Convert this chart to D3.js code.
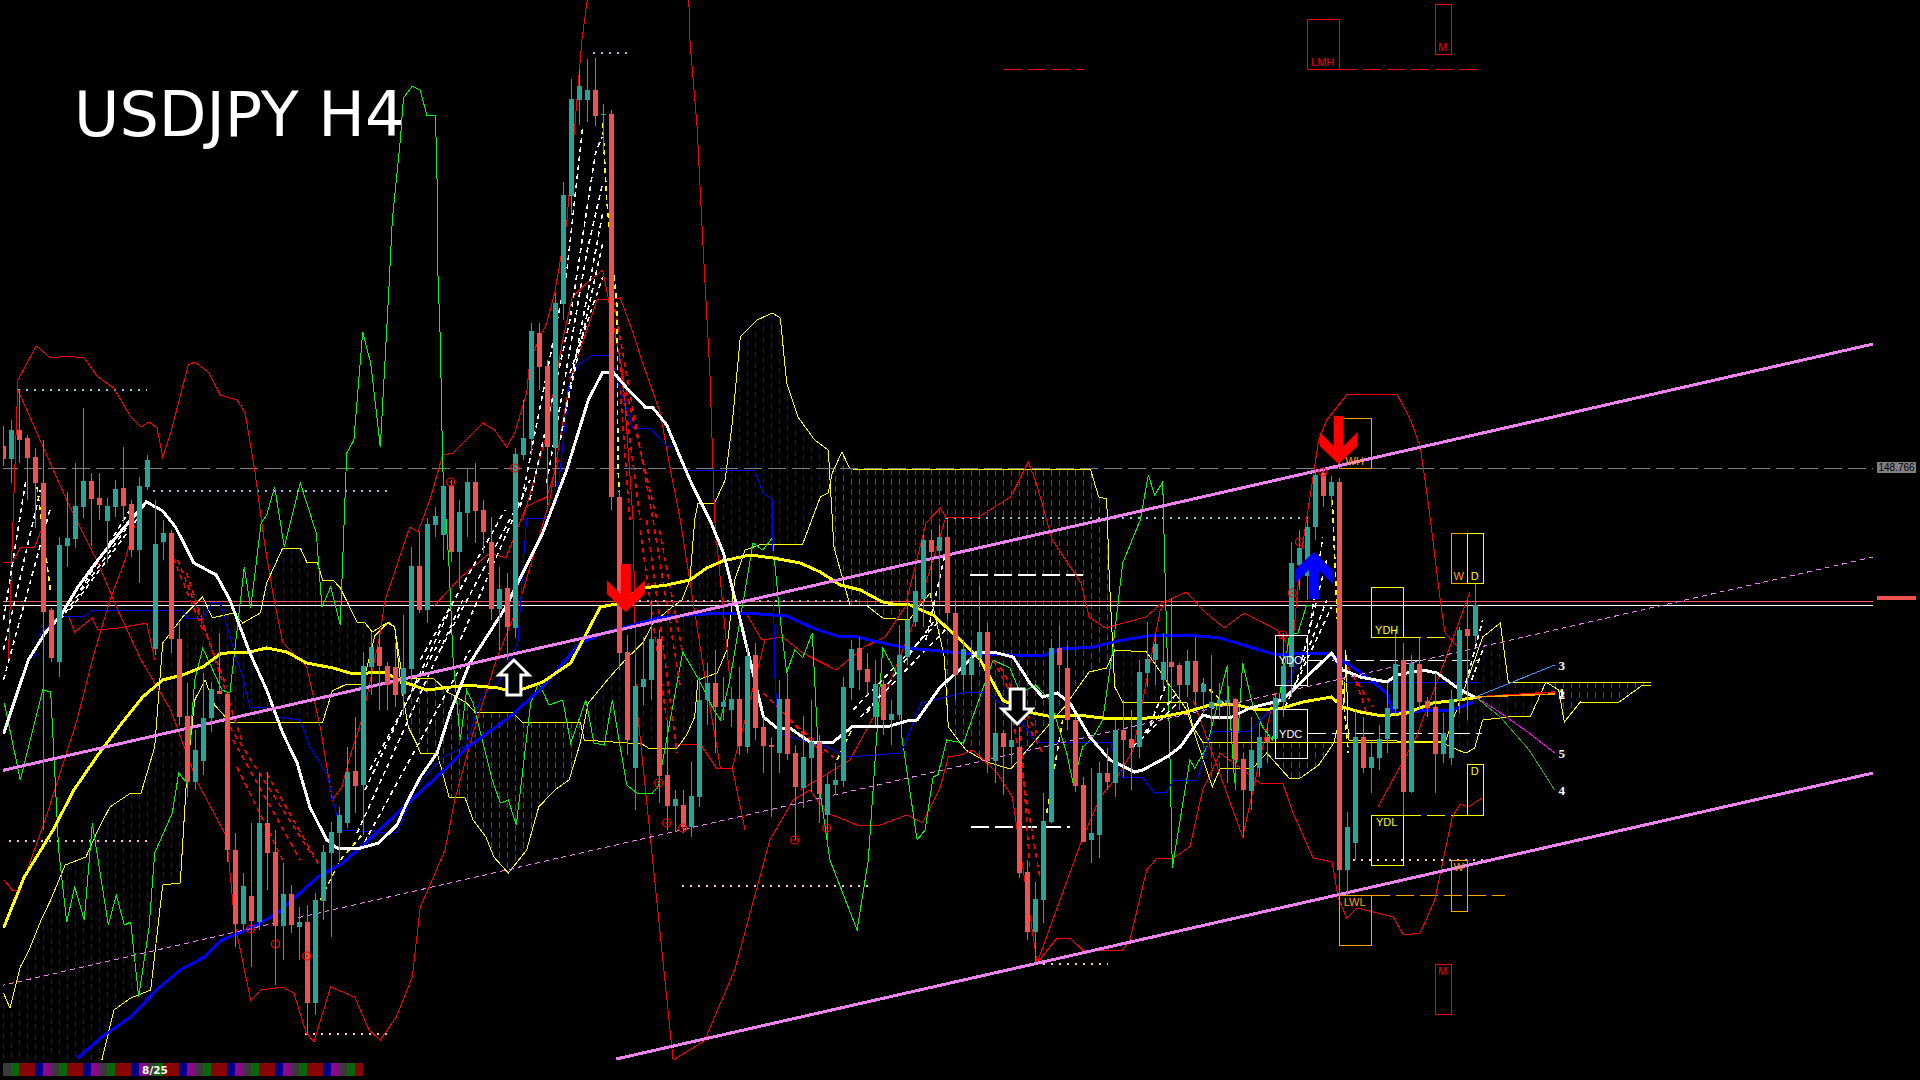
<!DOCTYPE html>
<html><head><meta charset="utf-8"><title>USDJPY H4</title>
<script src="https://cdnjs.cloudflare.com/ajax/libs/d3/7.8.5/d3.min.js"></script>
<style>html,body{margin:0;padding:0;background:#000;overflow:hidden}svg{display:block}</style>
</head><body><div id="chart"></div>
<script>
const symbolTitle = "USDJPY H4";
const tfCounter = "8/25";
const lastPriceLabel = "148.766";
const opens = [148.87,148.805,148.95,148.91,148.815,148.685,148.05,147.79,148.37,148.405,
148.565,148.695,148.61,148.495,148.565,148.66,148.58,148.35,148.665,147.855,
148.39,148.435,147.905,147.52,147.19,147.295,147.51,147.645,147.63,146.85,
146.48,146.62,146.49,146.985,146.84,146.47,146.63,146.465,146.49,146.085,
146.595,146.835,146.935,146.985,147.245,147.175,147.765,147.865,147.77,147.765,
147.63,147.755,148.27,148.05,148.475,148.425,148.67,148.34,148.535,148.69,
148.55,148.39,148.055,148.16,147.96,148.825,148.905,149.435,149.27,148.86,
149.58,150.12,150.6,150.6,150.65,150.525,150.53,148.615,147.84,147.26,
147.665,147.7,147.905,147.225,147.07,147.075,146.965,147.115,147.6,147.685,
147.565,147.55,147.605,147.365,147.825,147.465,147.375,147.335,147.605,147.335,
147.16,147.31,147.39,147.025,147.175,147.195,147.66,147.86,147.755,147.515,
147.68,147.5,147.525,147.815,147.99,148.105,148.4,148.345,148.415,148.035,
147.725,147.725,147.81,147.94,147.295,147.435,147.365,147.365,146.74,146.44,
146.6,146.99,147.86,147.76,147.5,147.175,146.9,146.925,147.235,147.185,
147.45,147.405,147.365,147.735,147.8,147.7,147.79,147.775,147.675,147.795,
147.64,147.56,147.58,147.585,147.605,147.305,147.145,147.26,147.415,147.405,
147.59,147.765,148.275,148.22,148.465,148.735,148.62,148.69,146.75,146.885,
147.415,147.26,147.31,147.405,147.555,147.8,147.14,147.78,147.595,147.565,
147.33,147.31,147.6,147.955,147.92];
const closes = [148.805,148.95,148.9,148.81,148.685,148.04,147.81,148.375,148.41,148.57,
148.695,148.605,148.575,148.57,148.655,148.57,148.35,148.67,148.8,148.38,
148.435,147.905,147.515,147.19,147.35,147.51,147.655,147.63,146.85,146.48,
146.67,146.495,146.985,146.835,146.47,146.63,146.475,146.49,146.085,146.6,
146.84,146.94,147.025,147.24,147.17,147.77,147.865,147.77,147.675,147.625,
147.76,148.27,148.05,148.48,148.52,148.67,148.34,148.54,148.69,148.545,
148.44,148.055,148.155,147.965,148.83,148.91,149.445,149.265,148.865,149.585,
150.125,150.605,150.67,150.65,150.52,150.53,148.615,147.835,147.4,147.67,
147.705,147.905,147.22,147.07,147.105,146.965,147.12,147.6,147.685,147.565,
147.59,147.605,147.37,147.82,147.46,147.37,147.365,147.605,147.33,147.165,
147.315,147.39,147.13,147.18,147.2,147.665,147.855,147.75,147.69,147.68,
147.5,147.53,147.825,148,148.145,148.4,148.34,148.415,148.035,147.725,
147.855,147.81,147.94,147.295,147.435,147.365,147.4,146.735,146.44,146.605,
146.995,147.86,147.775,147.5,147.17,146.89,146.935,147.235,147.19,147.45,
147.4,147.36,147.74,147.805,147.88,147.79,147.765,147.675,147.795,147.64,
147.68,147.59,147.6,147.6,147.3,147.15,147.35,147.415,147.385,147.61,
147.77,148.285,148.36,148.465,148.725,148.62,148.69,146.75,146.965,147.415,
147.26,147.315,147.405,147.56,147.78,147.14,147.785,147.59,147.56,147.33,
147.435,147.605,147.95,147.92,148.075];
const highs = [148.97,149,149.15,148.925,148.86,148.9,148.06,148.415,148.64,148.785,
149.06,148.735,148.735,148.61,148.7,148.865,148.6,148.715,148.825,148.6,
148.5,148.45,147.985,147.685,147.45,147.735,147.69,147.935,147.64,146.935,
146.735,146.985,147.235,147.24,146.95,146.785,146.675,146.565,146.575,146.635,
146.875,146.99,147.065,147.365,147.515,147.84,147.94,147.935,147.79,147.885,
148.025,148.365,148.44,148.51,148.565,148.71,148.7,148.6,148.76,148.785,
148.6,148.515,148.265,148.235,148.86,149.1,149.485,149.485,149.3,149.635,
150.19,150.705,150.755,150.805,150.81,150.58,150.55,148.65,147.925,147.825,
147.915,148.1,147.95,147.5,147.15,147.15,147.29,147.715,147.785,147.85,
147.715,147.665,147.765,147.865,147.885,147.515,147.415,147.7,147.735,147.375,
147.52,147.6,147.425,147.225,147.285,147.715,147.9,147.915,147.835,147.8,
147.7,147.6,147.975,148.1,148.225,148.425,148.45,148.475,148.5,148.1,
147.9,147.9,148.17,147.985,147.585,147.45,147.55,147.465,146.8,146.69,
147.135,147.905,147.975,147.875,147.515,147.215,147.26,147.29,147.36,147.5,
147.6,147.55,147.8,147.99,147.935,147.935,148.11,147.785,147.85,147.915,
147.71,147.825,147.685,147.775,147.61,147.335,147.515,147.485,147.485,147.635,
147.935,148.39,148.45,148.5,148.75,148.76,148.72,148.71,147.04,147.555,
147.515,147.4,147.475,147.685,147.955,147.885,147.825,147.91,147.615,147.735,
147.535,147.65,147.965,148.1,148.185];
const lows = [148.77,148.685,148.785,148.6,148.46,146.95,147.79,147.715,148.265,148.36,
148.51,148.37,148.5,148.285,148.515,148.485,148.315,148.185,148.65,147.825,
148.3,147.835,147.475,147.115,147.15,147.225,147.44,147.63,146.79,146.365,
146.45,146.265,146.45,146.65,146.175,146.3,146.435,146.3,145.935,146.025,
146.5,146.415,146.79,146.96,147.035,146.925,147.625,147.55,147.55,147.565,
147.525,147.7,148.035,147.985,148.415,148.3,148.29,148.16,148.415,148.385,
148.335,148,147.85,147.8,147.91,148.8,148.825,149.15,148.575,148.665,
149.5,150.025,150.475,150.49,150.47,150.34,148.55,147.75,147.325,147.05,
147.575,147.6,147.085,146.95,146.94,146.935,146.915,147.065,147.475,147.335,
147.5,147.465,147.325,147.335,147.4,147.235,147.015,147.235,147.3,146.9,
147.06,147.14,146.985,146.875,147.125,147.165,147.6,147.65,147.625,147.475,
147.425,147.375,147.5,147.775,147.965,147.965,148.1,148.1,148,147.6,
147.65,147.65,147.765,147.235,147.185,147.125,147.285,146.71,146.4,146.285,
146.485,146.985,147.635,147.45,147.14,146.89,146.785,146.81,147.15,147.115,
147.215,147.15,147.31,147.665,147.675,147.65,147.59,147.55,147.615,147.575,
147.535,147.465,147.5,147.185,147.15,146.915,147.05,147.215,147.285,147.31,
147.515,147.615,148.15,148.1,148.4,148.565,148.565,146.6,146.625,146.8,
147.235,147.135,147.25,147.335,147.525,147.015,147.135,147.55,147.515,147.135,
147.285,147.275,147.535,147.5,147.885];

const whiteMA = [[0,147.43],[3.1,147.8],[5.2,147.935],[7.2,148.025],[9.3,148.165],[11.8,148.3],[14.8,148.45],[17.2,148.56],[17.9,148.59],[19.9,148.545],[21.5,148.465],[23.8,148.285],[26.6,148.225],[28.3,148.1],[30.8,147.835],[32.9,147.65],[34.9,147.435],[36.7,147.285],[38.3,147.065],[40.4,146.9],[41.7,146.86],[44.2,146.855],[46.9,146.885],[49.2,146.975],[50.4,147.085],[52.1,147.215],[54.2,147.335],[55.8,147.535],[58.3,147.785],[62.8,148.065],[67.4,148.435],[70.4,148.75],[73.1,149.1],[74.9,149.24],[76.2,149.24],[77.9,149.16],[80.2,149.065],[81.1,149.065],[82.9,148.975],[84.9,148.785],[86.2,148.665],[88.3,148.5],[90,148.335],[91.7,148.065],[93.3,147.8],[95,147.515],[96.7,147.46],[98.3,147.46],[100.8,147.39],[103.7,147.39],[106.2,147.47],[110.8,147.47],[112.9,147.495],[114.2,147.5],[117.1,147.665],[119.6,147.755],[121.7,147.84],[123.7,147.84],[126.2,147.815],[128.3,147.685],[129.9,147.615],[131.7,147.635],[133.3,147.585],[135.8,147.415],[138.3,147.3],[141.4,147.24],[142.4,147.25],[145.4,147.315],[147.1,147.365],[149.9,147.525],[150.8,147.515],[153.3,147.51],[155.8,147.56],[159.9,147.6],[166,147.835],[167.4,147.75],[169.6,147.715],[172.9,147.69],[174.2,147.725],[177.4,147.75],[179.2,147.735],[182.1,147.65],[184.2,147.61]];
const yellowMA = [[0,146.46],[2.6,146.715],[6.2,146.95],[8.8,147.15],[11.8,147.325],[14.8,147.485],[17.4,147.615],[19.9,147.7],[22.4,147.725],[24.9,147.765],[27.1,147.83],[28.7,147.84],[30.8,147.84],[32.9,147.86],[35.4,147.84],[37.9,147.785],[41.2,147.76],[43.7,147.73],[47.4,147.74],[50.4,147.685],[52.9,147.65],[54.9,147.66],[57.9,147.675],[61.8,147.66],[63.9,147.64],[67.4,147.69],[70.9,147.785],[74.6,148.065],[76.6,148.08],[79.9,148.16],[82.9,148.175],[85.8,148.2],[87.9,148.26],[89.9,148.295],[93.3,148.325],[96.2,148.31],[99.6,148.285],[102.1,148.24],[104.6,148.175],[107.1,148.15],[109.9,148.09],[111.2,148.08],[113.3,148.075],[116.2,148.025],[119.6,147.9],[122.1,147.8],[123.7,147.685],[124.9,147.6],[128,147.54],[131.2,147.515],[134.2,147.525],[137.4,147.51],[141.2,147.505],[144.6,147.515],[147.9,147.54],[150.8,147.575],[153.7,147.58],[156.7,147.55],[159.9,147.56],[162.4,147.59],[166,147.615],[167.4,147.565],[169.6,147.54],[172.4,147.52],[175.4,147.535],[178.7,147.585],[181.7,147.6],[184.6,147.615]];
const blueMA = [[9.3,145.81],[12.3,145.915],[15.9,146.015],[19.4,146.16],[22.1,146.25],[25.1,146.315],[27.3,146.4],[31.2,146.465],[34.3,146.535],[39.3,146.715],[42.4,146.785],[45.4,146.89],[50.6,147.085],[54.7,147.235],[57.9,147.36],[63.3,147.515],[67.4,147.665],[72.1,147.885],[75.1,147.935],[79.6,147.985],[81.7,148.01],[85.8,148.025],[89.6,148.035],[92.9,148.035],[97.9,148.02],[101.2,147.96],[104.2,147.92],[106.7,147.915],[109.9,147.885],[112.9,147.86],[117.1,147.845],[119.6,147.835],[125.8,147.825],[129.9,147.82],[132.1,147.855],[136.2,147.865],[139.2,147.895],[142.9,147.92],[147.9,147.925],[152.1,147.91],[156.2,147.86],[159.2,147.825],[162.8,147.835],[165.4,147.835],[167.9,147.785],[170.4,147.715],[172.9,147.635],[173.7,147.535],[178.7,147.55],[180.8,147.545],[183.7,147.59]];
const blueThin = [[3.7,147.8],[4.7,147.935],[7.2,148.02],[10.1,148.02],[11.2,148.05],[22.4,148.05],[22.9,148.01],[24.9,148.01],[26.2,148.09],[27.1,148.085],[28.7,147.865],[29.9,147.715],[30.8,147.565],[32.9,147.565],[34.3,147.515],[37.1,147.5],[38.3,147.365],[40.4,147.235],[42.1,146.95],[49.2,146.935],[49.9,147],[51.2,147.15],[54.9,147.315],[57.9,147.375],[59.6,147.6],[62.1,147.7],[64.3,147.885],[65,148.3],[65.4,148.51],[68.1,148.51],[69.2,148.6],[70.8,149.215],[72.1,149.285],[73.7,149.325],[75.8,149.325],[77.1,149.15],[78.7,148.96],[80.8,148.96],[82.9,148.87],[84.2,148.865],[85.4,148.75],[93.9,148.75],[94.9,148.635],[96.1,148.605],[96.4,147.735],[96.9,147.435],[100.9,147.385],[103.1,147.365],[105.6,147.315],[112.2,147.335],[114.7,147.585],[120.3,147.64],[122.9,147.64],[127.1,147.5],[129,147.39],[138.3,147.39],[139.9,147.215],[142.3,147.215],[143.9,147.135],[145.4,147.14],[146.2,147.2],[149.2,147.2],[150.8,147.415],[151.2,147.445],[155.8,147.445],[159.6,147.6],[162.1,147.825],[166,147.835],[167.7,147.69],[184.6,147.69]];
const redUpper = [[.6,147.8],[1.8,149.2],[4.1,149.37],[5.9,149.31],[7.9,149.32],[10.1,149.31],[11.8,149.215],[13.8,149.16],[15.9,149.015],[17.2,148.965],[18.2,148.99],[19.2,148.96],[19.9,148.815],[20.9,148.935],[23.1,149.275],[23.9,149.29],[25.6,149.24],[27.1,149.125],[29.2,149.1],[30.2,149.035],[31.4,148.75],[32.7,148.365],[33.6,148.15],[34.9,147.885],[37.9,147.765],[39.6,147.465],[41.1,147.1],[42.3,147.165],[43.3,147.315],[44.9,147.515],[47.1,147.935],[47.7,148.1],[50.8,148.465],[51.8,148.44],[53.3,148.6],[54.9,148.825],[56.2,148.835],[58.1,148.91],[59.9,148.985],[61.4,148.95],[62.9,148.865],[63.9,148.935],[65.4,149.135],[65.8,149.3],[67.9,149.485],[68.9,149.635],[70.4,149.985],[72.3,150.9],[73.3,151.2],[85.6,151.2],[85.8,150.9],[86.7,150.465],[87.4,149.9],[88.3,149.235],[88.9,148.5],[90.8,147.7]];
const redUpper2 = [[92.8,148.035],[94.8,147.9],[97.4,147.915],[99.9,147.835],[104.1,147.75],[107.6,147.865],[110.2,147.915],[112.7,148.065],[115.3,148.485],[117.1,148.56],[117.8,148.515],[121.9,148.515],[125.9,148.615],[128.1,148.79],[129.1,148.685],[131.1,148.4],[134.7,148.185],[135.7,148.015],[137.7,147.96],[142.8,148.015],[144.8,148.085],[147.9,148.14],[149.9,148.05],[152.6,147.96],[155.1,148.035],[159.2,147.95],[161.1,147.85],[162.1,148.3],[164.4,148.9],[165.4,149],[167.9,149.125],[174.2,149.13],[175.9,149],[177.1,148.865],[178.1,148.585],[179.7,148.065],[180.2,147.935],[181.8,147.865]];
const redDown = [[1.8,149.15],[7.9,148.6],[11.8,148.285],[14.3,148.05],[17.2,147.8],[20.9,147.55],[24.1,147.2],[27.9,146.915],[28.9,146.485],[30.9,146.1],[32.2,146.15],[34.8,146.165],[36.3,146.135],[37.8,145.94],[38.8,145.89],[40.9,146.165],[43.9,146.115],[45.7,145.95],[47.1,145.9],[49.1,146.015],[51.1,146.215],[52.1,146.565],[53.2,146.665],[55.2,146.85],[56.4,147.1],[58.7,147.435],[61.6,147.8],[64.6,148.1],[68.3,148.6],[70.8,149.2],[74.2,149.6],[77.1,149.61],[78.7,149.435],[79.9,149.285],[82.1,149.035],[83.3,148.765],[84.6,148.5],[87.4,147.785],[89.6,147.26],[91.1,147.26],[92.7,146.95]];
const redLowerBand = [[64.9,148.5],[67.7,148.9],[69.9,149.4],[71.1,149.615],[72.9,149.685],[74.9,149.75],[77.4,149.235],[78.7,148.5],[79.1,147.6],[83.7,145.8],[87.6,145.895],[91.4,146.25],[95.8,146.9],[98.7,147.1],[100.8,147.15],[102.9,147.035],[104.2,147.015],[106.7,146.975],[109.6,146.975],[112.9,147.025],[114.9,146.985],[117.1,147.165],[118.1,147.315],[119.6,147.325],[121.2,147.35],[124.2,147.235],[126.1,147.115],[129.2,146.285],[131.7,146.41],[133.3,146.41],[134.9,146.35],[139.9,146.35],[140.8,146.4],[142.9,146.75],[144.2,146.81],[146.2,146.81],[148.3,146.865],[149.9,147.15],[152.1,147.335],[157.1,147.185],[159.9,147.185],[161.2,147.035],[163.7,146.81],[166.1,146.79],[166.8,146.615],[167.9,146.51],[169.2,146.56],[173.7,146.515],[175,146.425],[177.1,146.435],[178.9,146.6],[181.1,147.015],[182.1,147.08],[183.1,147.065],[184.8,147.11]];
const redExtra1 = [[8.2,148.015],[8.9,147.94],[11.1,148.01],[11.8,147.95],[14.3,147.96],[17.9,147.985],[18.9,147.8]];
const redExtra2 = [[0,148.285],[1.1,148.29],[2.1,148.36],[3.9,148.365],[5.2,148.5]];
const redExtra3 = [[.1,146.7],[1.1,146.65],[2.1,146.65],[5.2,147],[9.2,147.5],[11.1,147.8],[13.3,148.1],[15.2,148.3],[16.4,148.475]];
const redExtra4 = [[129.2,146.285],[134.8,146.9],[137.1,147.115],[139.2,147.215],[141.2,147.35],[144.6,148.05],[145.6,148.1]];
const redExtra5 = [[99.6,147.15],[105.8,147.3],[109.9,147.6],[113.9,148],[117.8,148.515]];
const redExtra6 = [[148.7,147.6],[154.9,146.915],[158.9,147.635]];
const redExtra7 = [[171.8,147.065],[176.6,147.415],[180.2,147.8],[183.3,148.14]];
const redExtra8 = [[84.6,147.38],[87.1,147.38],[89.1,147.26],[91.1,147.26],[92.7,147.5],[95.2,147.9]];
const redExtra9 = [[53.7,148.065],[57.2,148.215],[60.8,148.335],[62.8,148.31],[65.3,148.565],[67.9,148.615],[69.4,148.8]];
const greenLine = [[0.1,147.585],[2.1,147.2],[4.9,147.65],[5.9,147.64],[6.9,146.85],[7.9,146.49],[8.9,146.665],[10.1,146.5],[11.1,146.985],[13.1,146.475],[14.1,146.625],[15.1,146.475],[15.9,146.49],[16.9,146.115],[18.2,146.465],[18.9,146.835],[21.1,147.035],[21.9,147.235],[22.9,147.185],[23.9,147.7],[24.9,147.86],[27.3,147.65],[28.3,147.635],[29.3,147.985],[30.1,148.265],[30.9,148.06],[32.2,148.485],[32.9,148.525],[33.9,148.665],[35.1,148.365],[37.1,148.685],[39.1,148.435],[39.8,148.065],[40.9,148.165],[42.1,147.975],[42.9,148.835],[43.8,148.9],[44.9,149.44],[45.9,149.285],[47.1,148.865],[48.1,149.6],[48.6,150],[49.6,150.4],[50,150.61],[51.1,150.67],[52.1,150.65],[52.9,150.525],[54,150.525],[54.2,150.185],[54.3,149.735],[54.6,149.4],[54.9,148.765],[55.7,148.265],[56.2,147.8],[57.1,147.4],[57.9,147.65],[58.7,147.585],[61.1,147.2],[62.1,147.085],[63.1,147.1],[64.1,146.975],[65.9,147.585],[66.9,147.685],[68.2,147.575],[69.9,147.6],[70.9,147.385],[72.8,147.6],[73.8,147.385],[75.1,147.375],[76.1,147.6],[77.9,147.175],[79.2,147.135],[81.1,147.135],[81.8,147.165],[84.9,147.84],[86.8,147.71],[88.6,147.565],[89.6,147.5],[90.8,147.7],[93.7,148.385],[94.9,148.35],[96.1,148.41],[97.1,148],[97.9,147.735],[98.9,147.85],[99.9,147.81],[101.1,147.935],[102.1,147.135],[103.3,146.8],[106.7,146.45],[108.1,146.8],[109.9,147.86],[112.1,147.7],[112.3,147.415],[114.2,146.9],[115.2,146.95],[116.2,147.215],[116.8,147.225],[117.9,147.4],[120,147.385],[123.7,147.8],[125.8,147.76],[127.1,147.635],[129,147.675],[130.8,147.6],[132.9,147.335],[133.7,147.185],[134.9,147.365],[136.2,147.415],[137.4,147.5],[138.6,147.835],[139.9,148.285],[142.1,148.5],[143.1,148.725],[143.9,148.625],[144.9,148.69],[145.3,148.065],[145.8,147.335],[146.1,146.76],[148.3,147.3],[148.9,147.26],[150.4,147.365],[152.9,147.765],[153.9,147.185],[154.9,147.785],[156.2,147.565],[157.4,147.465],[158.6,147.4],[160.8,147.935],[161.8,147.935],[162.9,148.075],[163.7,148.075]];
const spanA = [[0,146.135],[.8,146.06],[2.1,146.265],[3.2,146.35],[4.7,146.5],[5.9,146.6],[7.7,146.775],[10.3,146.815],[11.8,146.95],[13.3,147.065],[15.9,147.135],[17.2,147.135],[18.9,147.365],[19.9,147.885],[22.4,148.015],[24.9,148.115],[26.1,148.01],[28.7,148.035],[29.9,147.985],[32.1,148.035],[32.9,148.185],[34.9,148.36],[37.1,148.36],[37.9,148.29],[39.2,148.29],[39.9,148.2],[41.2,148.2],[42.1,148.16],[44.2,147.99],[45.2,147.985],[46.1,147.94],[47.9,147.985],[48.9,147.965],[49.6,147.7],[50.6,147.465],[51.6,147.385],[52.1,147.335],[54.2,147.335],[55.7,147.115],[57.7,147.11],[58.7,147],[60.3,146.915],[61.3,146.815],[63.1,146.735],[65.4,146.85],[66.9,147.065],[68.9,147.15],[70.7,147.2],[72.1,147.385],[73.1,147.585],[75.8,147.715],[77.7,147.8],[79.9,147.885],[81.2,147.985],[83.6,148.065],[84.8,148.1],[85.8,148.2],[86.4,148.5],[86.8,148.585],[88.9,148.585],[90.2,148.7],[91.1,148.985],[92.1,149.415],[94.2,149.5],[96.1,149.535],[97.1,149.51],[97.9,149.185],[99.3,149.015],[101.4,148.9],[103.1,148.85],[103.8,148.365],[105.8,148.075],[107.8,148.075],[109.9,148.01],[113.2,148],[115.8,148.135],[117.6,147.815],[118.1,147.465],[120.3,147.35],[122.9,147.29],[125.9,147.255],[132.6,147.565],[135.7,147.74],[137.9,147.76],[138.9,147.85],[142.9,147.84],[147.9,147.55],[151.1,147.165],[152.1,147.26],[156.2,147.26],[157.9,147.335],[160.7,147.21],[162.1,147.21],[164.4,147.275],[166.3,147.385],[167.6,147.6],[167.8,147.85],[168.1,147.4],[180.2,147.39],[183.3,147.735],[184.9,147.915],[187.1,147.985],[188.1,147.69],[192.8,147.69],[194.4,147.65],[195.1,147.49],[197.1,147.59],[201.8,147.585],[204.9,147.675],[205.9,147.675]];
const spanB = [[12.3,145.8],[13.8,146.05],[15.9,146.11],[18.4,146.15],[19.9,146.675],[22.1,146.685],[22.9,147.215],[23.9,147.6],[25.2,147.7],[26.4,147.575],[28.3,147.49],[39.9,147.49],[41.1,147.645],[42.9,147.68],[44.9,147.68],[46.4,147.92],[48.1,147.99],[48.9,147.965],[49.9,147.7],[50.8,147.71],[53.7,147.71],[55.7,147.635],[57.9,147.585],[58.9,147.54],[63.6,147.54],[64.8,147.49],[72.1,147.49],[72.6,147.4],[77.9,147.385],[79.6,147.385],[80.6,147.36],[84.2,147.36],[85.4,147.425],[86.4,147.515],[86.8,147.7],[89.2,147.735],[90.4,147.85],[91.4,148.2],[92.7,148.35],[94.8,148.38],[99.9,148.38],[102.1,148.615],[103.1,148.635],[103.6,148.735],[104.8,148.84],[105.8,148.755],[135.9,148.75],[136.9,148.615],[137.9,148.605],[138.2,148.235],[138.9,147.665],[139.9,147.59],[147.9,147.59],[148.7,147.465],[149.9,147.39],[179.6,147.39],[181.8,147.35],[182.8,147.335],[183.9,147.36],[184.9,147.5],[188.1,147.515],[190.9,147.52],[192.8,147.69],[205.9,147.69]];
const whiteRibbon = [[[0,148],[2.8,148.7]],[[0,147.85],[4.6,148.65]],[[0,147.7],[5.8,148.55]],[[7.1,148],[17.9,148.6]],[[8.3,148.05],[17.1,148.525]],[[9.6,148.15],[15.8,148.55]],[[44.2,146.935],[57.4,148.1]],[[44.6,146.85],[58.3,147.85]],[[45.2,147.15],[55.8,148.05]],[[45.8,147.25],[54.6,147.9]],[[52.1,147.8],[62.7,148.55]],[[54.6,147.85],[64.6,148.6]],[[57.1,147.9],[65.8,148.7]],[[64.6,148.565],[70.4,149.735],[72.4,150.465]],[[65.8,148.6],[70.8,149.5],[74,150.335],[74.8,150.415]],[[67.9,148.685],[72.9,149.835],[74.9,150.185]],[[69.6,148.9],[74.9,150.035]],[[70.4,149.065],[74.9,149.885]],[[70.8,149.235],[74.9,149.715]],[[106.2,147.55],[117.1,148]],[[107.1,147.515],[117.7,147.95]],[[107.9,147.535],[116.7,148.015]],[[115.3,147.9],[117.6,148.315]],[[141.2,147.365],[146.7,147.635]],[[142.1,147.4],[147.1,147.6]],[[142.9,147.435],[145.4,147.685]],[[160.2,147.565],[166,148.065]],[[161.3,147.665],[165.4,148.1]],[[162.3,147.8],[165.4,148.3]],[[163.3,147.965],[164.9,148.415]],[[182.8,147.685],[184.9,148]],[[183.5,147.7],[184.9,147.85]]];
const redRibbon = [[[20.8,148.35],[24.9,147.95]],[[21.8,148.3],[27.9,147.665]],[[22.9,148.235],[29.9,147.385]],[[28.3,147.465],[38.7,146.815]],[[28.7,147.4],[37.1,146.8]],[[32.9,147.235],[39.6,146.765]],[[29.2,147.265],[34.9,146.8]],[[76.2,149.6],[81.2,148.5]],[[76.7,149.4],[79.6,148.5]],[[77.3,149.235],[81.7,148.5]],[[77.1,149.15],[78.3,148.5]],[[80.4,148.5],[84.2,147.335]],[[81.2,148.5],[84.6,147.665]],[[79.6,148.45],[82.9,147.5]],[[82,148.45],[84.9,147.835]],[[123.7,147.8],[129.9,147.335]],[[124.6,147.765],[129.2,147.435]],[[126.2,147.5],[129.6,146.7]],[[127.1,147.465],[128.3,146.75]],[[167.4,147.8],[171.2,147.565]],[[168.7,147.735],[170.4,147.535]],[[95,147.635],[102.4,147.335]],[[98.3,147.5],[103.7,147.315]]];
const yellowRibbon = [[[74.9,150.485],[75.4,150.1],[76.7,149.565],[76.8,148.765],[77.1,148.55]],[[4.2,148.665],[5.9,148.135]],[[166.1,148.6],[166.8,147.935],[168.1,147.335]],[[39.6,146.6],[42.1,146.8],[45,146.935]],[[130.4,147.035],[132.4,147.5]],[[104.2,147.3],[106.2,147.465]],[[149.9,147.685],[153,147.565]]];
const channelUpper = [[-.44,147.245],[233.7,149.38]];
const channelLower = [[76.6,145.805],[233.7,147.235]];
const channelMid = [[-.44,146.17],[233.7,148.315]];
const bluePivots = [[1.8,17.9,149.15],[18.7,48.1,148.645],[76.4,107,148.095],[117.8,163,148.51],[73.7,78.1,150.835]];
const pinkPivots = [[.7,18.1,146.895],[84.8,108,146.67],[37.7,48.1,145.93],[128.9,138,146.28],[168.7,185.8,146.8]];
const whiteDashBold = [[120.8,134.9,148.225],[120.9,133.3,146.965]];
const whiteDashThin = [[163,184.6,147.8],[163,184.8,147.435]];
const yellowDash = [[174.9,180.2,147.915],[174.9,184.9,147.025]];
const orangeDash = [[171,187.7,146.625]];
const redDash = [[166.9,184.2,150.755],[125.1,135.1,150.755]];
const levelGray = 148.76, levelRed = 148.095, levelWhite = 148.075;
const circles = [[55.9,148.69],[63.9,148.76],[30.9,146.455],[34,146.38],[37.9,146.32],[81.9,147.185],[82.9,146.985],[84.9,146.96],[98.9,146.9],[102.9,146.96],[162,148.39],[164.9,148.74],[161.1,148.135],[159.9,147.925]];
const boxNames = ["YDH","W","D","YDO","YDC","YDL","D","W","LWL","WH","LMH","M","M"];
const boxBars = [[170.9,174.9],[180.9,182.9],[182.9,184.9],[158.9,162.9],[158.9,162.9],[170.9,174.9],[182.9,184.9],[180.9,182.9],[166.9,170.9],[166.9,170.9],[162.9,166.9],[178.9,180.9],[178.9,180.9]];
const boxPrices = [[148.165,147.915],[148.435,148.185],[148.435,148.185],[147.925,147.675],[147.555,147.31],[147.025,146.775],[147.28,147.025],[146.8,146.545],[146.625,146.375],[149.01,148.76],[151.005,150.755],[151.08,150.83],[146.28,146.03]];
const arrowsRedDown = [[77.8,148.04],[166.9,148.78]];
const arrowsBlueUp = [[163.8,148.34]];
const arrowsWhiteUp = [[63.8,147.8]];
const arrowsWhiteDown = [[126.7,147.48]];
const proj3 = [[184,147.615],[193.9,147.775]];
const proj5 = [[184,147.615],[186.6,147.55],[190.7,147.435],[193.9,147.335]];
const proj4 = [[184,147.615],[187.1,147.515],[190.7,147.35],[193.9,147.15]];
const proj1 = [[184,147.615],[193.9,147.64]];
const proj2 = [[184,147.615],[193.9,147.63]];
const projLabelText = ["3","5","4","1","2"];
const projLabelBars = [193.9,193.9,193.9,193.9,193.9];
const projLabelPrices = [147.775,147.335,147.15,147.64,147.63];
const stripCells = ["gray","green","red","red","navy","purple","gray","green","red","red","navy","purple","gray","green","red","red","navy","purple","gray","green","red","red","navy","purple","gray","green","red","red","navy","purple","gray","green","red","red","navy","purple","gray","green","red","red","navy","purple","gray","green","red"];

const W = 1920, H = 1080;
const x = d3.scaleLinear().domain([0,184]).range([3.5,1475.5]);
const y = d3.scaleLinear().domain([151.1,145.7]).range([0,1080]);
const svg = d3.select("#chart").append("svg").attr("width",W).attr("height",H).style("background","#000");
svg.append("defs").append("clipPath").attr("id","plot").append("rect").attr("x",3).attr("y",0).attr("width",1872).attr("height",1060);
const root = svg.append("g").attr("clip-path","url(#plot)").attr("shape-rendering","crispEdges");
const line = d3.line().x(d=>x(d[0])).y(d=>y(d[1]));
function path(data,color,width,dash){
  return root.append("path").datum(data).attr("d",line).attr("fill","none").attr("stroke",color).attr("stroke-width",width).attr("stroke-dasharray",dash||null);
}
function hseg(list,color,width,dash){
  root.append("g").selectAll("line").data(list).join("line")
    .attr("x1",d=>x(d[0])).attr("x2",d=>x(d[1])).attr("y1",d=>y(d[2])).attr("y2",d=>y(d[2]))
    .attr("stroke",color).attr("stroke-width",width).attr("stroke-dasharray",dash);
}
// cloud hatch derived from the two span series
const interp = s => d3.scaleLinear().domain(s.map(d=>d[0])).range(s.map(d=>d[1])).clamp(true);
const ia = interp(spanA), ib = interp(spanB);
const lastCloud = spanA[spanA.length-1][0];
const hatch = d3.range(0,Math.floor(lastCloud)+1);
root.append("g").selectAll("line").data(hatch).join("line")
  .attr("x1",d=>x(d)).attr("x2",d=>x(d))
  .attr("y1",d=>y(Math.max(ia(d),ib(d)))).attr("y2",d=>y(Math.min(ia(d),ib(d))))
  .attr("stroke",d=>ia(d)>=ib(d)?"#0000ff":"#ff0000").attr("stroke-width",1).attr("stroke-dasharray","6 4");
path(spanA,"#ffff00",1); path(spanB,"#ffff00",1);
// levels
hseg([[-.44,233.7,levelGray]],"#808080",1,"18 6");
hseg([[-.44,233.7,levelRed]],"#f0584f",1,null);
hseg([[-.44,233.7,levelWhite]],"#ffffff",1,null);
hseg(bluePivots,"#87ceeb",2,"2 6");
hseg(pinkPivots,"#ffc0cb",2,"2 6");
hseg(whiteDashBold,"#ffffff",2,"18 6");
hseg(whiteDashThin,"#ffffff",1,"18 6");
hseg(yellowDash,"#ffff00",1,"18 6");
hseg(orangeDash,"#ffa500",1,"18 6");
hseg(redDash,"#ff0000",1,"18 6");
// thin lines
[redUpper,redUpper2,redDown,redLowerBand,redExtra1,redExtra2,redExtra3,redExtra4,redExtra5,redExtra6,redExtra7,redExtra8,redExtra9].forEach(s=>path(s,"#ff0000",1));
path(greenLine,"#00ff00",1);
path(blueThin,"#0000ff",1);
whiteRibbon.forEach(s=>path(s,"#ffffff",1.6,"5 4"));
redRibbon.forEach(s=>path(s,"#ff0000",1.6,"5 4"));
yellowRibbon.forEach(s=>path(s,"#ffff00",1.6,"5 4"));
// thick lines
path(blueMA,"#0000ff",3);
path(yellowMA,"#ffff00",3);
path(whiteMA,"#ffffff",3);
path(channelMid,"#ee82ee",1,"5 4");
path(channelUpper,"#ee82ee",3);
path(channelLower,"#ee82ee",3);
// projections
path(proj3,"#3399ff",1);path(proj5,"#ff00ff",1);path(proj4,"#33aa11",1);path(proj1,"#ff0000",1.5);path(proj2,"#ffa500",1.5);
// candles
const up="#26a69a", dn="#ef5350";
const bars = d3.range(opens.length);
const gc = root.append("g");
gc.selectAll(".w").data(bars).join("line").attr("x1",i=>x(i)).attr("x2",i=>x(i))
  .attr("y1",i=>y(highs[i])).attr("y2",i=>y(lows[i]))
  .attr("stroke",i=>closes[i]>=opens[i]?up:dn).attr("stroke-width",1);
gc.selectAll(".b").data(bars).join("rect").attr("x",i=>x(i)-2.5).attr("width",5)
  .attr("y",i=>y(Math.max(opens[i],closes[i])))
  .attr("height",i=>Math.max(1,Math.abs(y(opens[i])-y(closes[i]))))
  .attr("fill",i=>closes[i]>=opens[i]?up:dn);
// pattern markers
const gm = root.append("g").attr("shape-rendering","auto");
gm.selectAll(".c").data(circles).join("circle").attr("cx",d=>x(d[0])).attr("cy",d=>y(d[1])).attr("r",4).attr("fill","none").attr("stroke","#ff0000").attr("stroke-width",1.2);
gm.selectAll(".d").data(circles).join("circle").attr("cx",d=>x(d[0])).attr("cy",d=>y(d[1])).attr("r",1).attr("fill","#ff0000");
// boxes
const boxColor = {YDH:"#ffff00",YDL:"#ffff00",YDO:"#ffffff",YDC:"#ffffff",W:"#ffa500",WH:"#ffa500",LWL:"#ffa500",LMH:"#ff0000",M:"#ff0000",D:"#ffff00"};
const boxLow = new Set([5,6,7,8,12]);
const boxMid = new Set([3,4]);
boxNames.forEach((n,i)=>{
  const [b0,b1]=boxBars[i],[p0,p1]=boxPrices[i];
  const X0=x(b0),X1=x(b1),Y0=y(p0),Y1=y(p1);
  const c=boxColor[n];
  root.append("rect").attr("x",Math.round(X0)+.5).attr("y",Math.round(Y0)+.5).attr("width",X1-X0).attr("height",Y1-Y0).attr("fill","none").attr("stroke",c).attr("stroke-width",1);
  const ty = boxLow.has(i)?Y0+11:boxMid.has(i)?(Y0+Y1)/2+4:Y1-3;
  root.append("text").attr("x",(X0+X1)/2).attr("y",ty).attr("text-anchor","middle").attr("fill",c)
    .attr("font-family","Liberation Sans, Arial, sans-serif").attr("font-size",11).text(n);
});
// arrows
const gar = root.append("g").attr("shape-rendering","auto");
const solidDown="M0,0 L19,-18 L19,-32 L5,-18 L5,-48 L-5,-48 L-5,-18 L-19,-32 L-19,-18 Z";
const solidUp="M0,0 L19,18 L19,32 L5,18 L5,47 L-5,47 L-5,18 L-19,32 L-19,18 Z";
const hollowUp="M0,0 L15,15 L7,15 L7,35 L-7,35 L-7,15 L-15,15 Z";
const hollowDown="M0,0 L15,-15 L7,-15 L7,-35 L-7,-35 L-7,-15 L-15,-15 Z";
const place=(list,d,fill,stroke)=>gar.selectAll(null).data(list).join("path").attr("d",d)
  .attr("transform",p=>`translate(${x(p[0])},${y(p[1])})`).attr("fill",fill).attr("stroke",stroke).attr("stroke-width",stroke==="none"?0:3);
place(arrowsRedDown,solidDown,"#ff0000","none");
place(arrowsBlueUp,solidUp,"#0000ff","none");
place(arrowsWhiteUp,hollowUp,"#000","#fff");
place(arrowsWhiteDown,hollowDown,"#000","#fff");
// projection labels
svg.append("g").selectAll("text").data(projLabelText).join("text").attr("x",(d,i)=>x(projLabelBars[i])+7).attr("y",(d,i)=>y(projLabelPrices[i])+5)
  .attr("text-anchor","middle").attr("fill","#fff").attr("font-family","Liberation Serif, Times New Roman, serif")
  .attr("font-weight","bold").attr("font-size",13).text(d=>d);
// price tags
svg.append("rect").attr("x",1877).attr("y",462).attr("width",39).attr("height",11).attr("fill","#808080");
svg.append("text").attr("x",1896.5).attr("y",471).attr("text-anchor","middle").attr("fill","#000").attr("font-family","Liberation Sans, Arial, sans-serif").attr("font-size",10).text(lastPriceLabel);
svg.append("rect").attr("x",1877).attr("y",596).attr("width",39).attr("height",4).attr("fill","#ef5350");
// title
svg.append("text").attr("x",74).attr("y",136).attr("fill","#fff").attr("font-family","DejaVu Sans, sans-serif").attr("font-size",62).text(symbolTitle);
// timeframe strip
const stripColor={gray:"#3a3a3a",green:"#096609",red:"#860606",navy:"#000088",purple:"#880a88"};
const sx=d3.scaleBand().domain(d3.range(stripCells.length)).range([3,363]);
svg.append("g").selectAll("rect").data(stripCells).join("rect").attr("x",(d,i)=>sx(i)).attr("y",1063).attr("width",sx.bandwidth()).attr("height",13).attr("fill",d=>stripColor[d]);
svg.append("text").attr("x",155).attr("y",1074).attr("text-anchor","middle").attr("fill","#fff").attr("font-family","DejaVu Sans, sans-serif").attr("font-weight","bold").attr("font-size",10.5).text(tfCounter);
</script></body></html>
